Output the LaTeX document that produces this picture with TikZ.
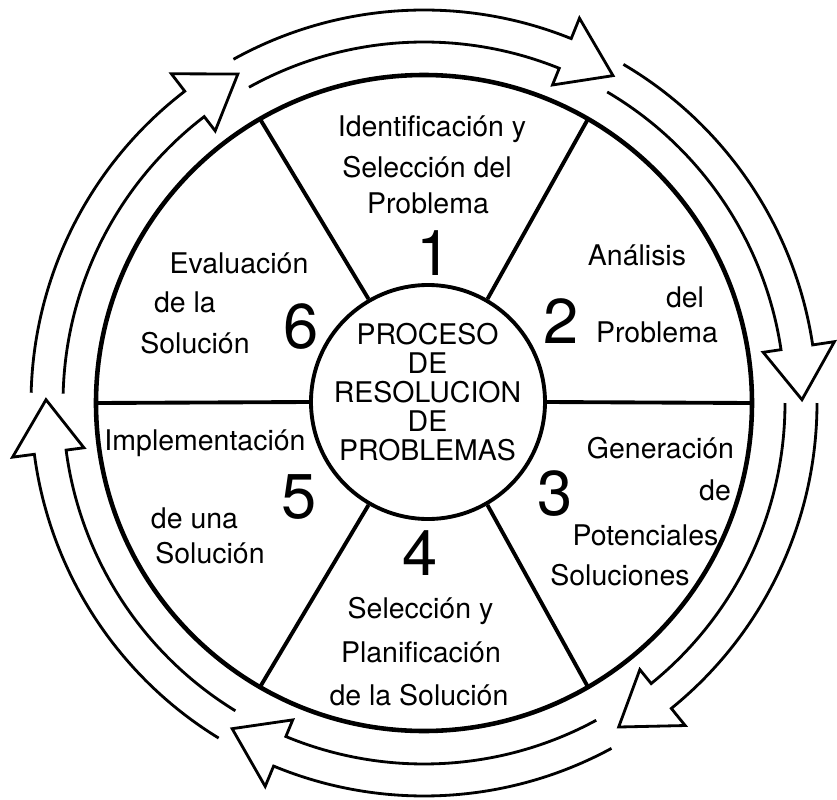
\documentclass[tikz,border=0pt]{standalone}
\usepackage{fontspec}
\setmainfont{TeX Gyre Heros}
\usepackage{tikz}
\tikzstyle{rim}=[line width=2.6pt]
\tikzstyle{spoke}=[line width=2.2pt]
\tikzstyle{hub}=[circle,draw,line width=2.2pt,minimum size=4.68cm,inner sep=0pt]
\tikzstyle{band}=[line width=1.6pt,line join=miter]
\tikzstyle{lbl}=[anchor=base,inner sep=0pt,font=\fontsize{16.2}{18}\selectfont]
\tikzstyle{num}=[anchor=base,inner sep=0pt,font=\fontsize{36}{36}\selectfont]
\tikzstyle{title}=[align=center,inner sep=0pt,font=\fontsize{16.2}{16.5}\selectfont]

\begin{document}
\begin{tikzpicture}
    \useasboundingbox (-8.48,-7.92) rectangle (8.26,8.06);
    % wheel
    \draw [rim] (0,0) circle (6.56);
    \node [hub] (hub) at (0.08,0.02) {};
    \foreach \a in {0,60,...,300}
        \draw [spoke] (hub.\a) -- (\a:6.56);
    \node [title] (title) at (0.07,0.21) {PROCESO\\DE\\RESOLUCION\\DE\\PROBLEMAS};

    % arrows round the wheel
    \foreach \t in {119,59.5,0,-61.5,-121.5,178.5}
        \draw [band] (\t:7.86) arc[start angle=\t, end angle=\t-51, radius=7.86]
            -- ({\t-51}:8.3) -- ({\t-59}:7.56) -- ({\t-51}:6.86) -- ({\t-51}:7.22)
            arc[start angle=\t-51, end angle=\t, radius=7.22];

    % 1
    \node [lbl] (s1a) at (0.16,5.34) {Identificación y};
    \node [lbl] (s1b) at (0.06,4.52) {Selección del};
    \node [lbl] (s1c) at (0.08,3.80) {Problema};
    \node [num] (n1) at (0.20,2.56) {1};
    % 2
    \node [lbl] (s2a) at (4.26,2.76) {Análisis};
    \node [lbl] (s2b) at (5.22,1.92) {del};
    \node [lbl] (s2c) at (4.66,1.22) {Problema};
    \node [num] (n2) at (2.75,1.20) {2};
    % 3
    \node [lbl] (s3a) at (4.73,-1.10) {Generación};
    \node [lbl] (s3b) at (5.82,-1.94) {de};
    \node [lbl] (s3c) at (4.43,-2.84) {Potenciales};
    \node [lbl] (s3d) at (3.92,-3.64) {Soluciones};
    \node [num] (n3) at (2.62,-2.24) {3};
    % 4
    \node [num] (n4) at (-0.08,-3.44) {4};
    \node [lbl] (s4a) at (-0.07,-4.30) {Selección y};
    \node [lbl] (s4b) at (-0.06,-5.18) {Planificación};
    \node [lbl] (s4c) at (-0.10,-6.04) {de la Solución};
    % 5
    \node [lbl] (s5a) at (-4.38,-0.94) {Implementación};
    \node [num] (n5) at (-2.50,-2.30) {5};
    \node [lbl] (s5b) at (-4.59,-2.50) {de una};
    \node [lbl] (s5c) at (-4.28,-3.20) {Solución};
    % 6
    \node [lbl] (s6a) at (-3.70,2.60) {Evaluación};
    \node [lbl] (s6b) at (-4.78,1.82) {de la};
    \node [lbl] (s6c) at (-4.58,1.00) {Solución};
    \node [num] (n6) at (-2.46,1.10) {6};

\end{tikzpicture}
\end{document}
